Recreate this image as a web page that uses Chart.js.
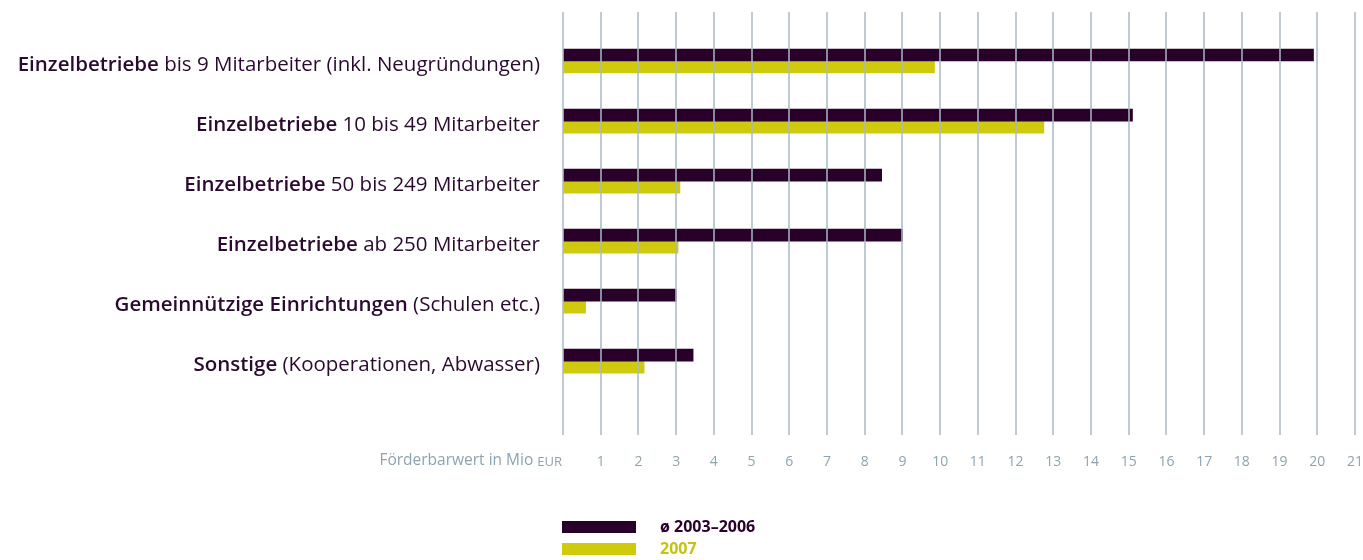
<!DOCTYPE html>
<html>
<head>
<meta charset="utf-8">
<script src="https://cdn.jsdelivr.net/npm/chart.js@4.4.0/dist/chart.umd.min.js"></script>
<style>
  html, body { margin: 0; padding: 0; background: #fff; }
  #wrap { width: 1363px; height: 560px; position: relative; }
</style>
</head>
<body>
<div id="wrap"><canvas id="chart"></canvas></div>
<script>
// Kategorien (fetter Teil + normaler Teil)
const kategorienFett = ['Einzelbetriebe', 'Einzelbetriebe', 'Einzelbetriebe', 'Einzelbetriebe', 'Gemeinnützige Einrichtungen', 'Sonstige'];
const kategorienNormal = [' bis 9 Mitarbeiter (inkl. Neugründungen)', ' 10 bis 49 Mitarbeiter', ' 50 bis 249 Mitarbeiter', ' ab 250 Mitarbeiter', ' (Schulen etc.)', ' (Kooperationen, Abwasser)'];

const serienNamen = ['ø 2003–2006', '2007'];
const werte2003bis2006 = [19.9, 15.1, 8.45, 9.0, 3.0, 3.45];
const werte2007 = [9.85, 12.75, 3.1, 3.05, 0.6, 2.15];

const achsenTitel = 'Förderbarwert in Mio ';
const achsenEinheit = 'EUR';
const xMin = 0, xMax = 21;

const DUNKEL = '#280029';
const GELB = '#cfca0d';
const GRID = 'rgba(168, 186, 198, 0.75)';
const TICK = '#8ea3b0';
const TEXT = '#2b0a2f';
const FONT = '"Open Sans", "Noto Sans", sans-serif';

// Gitterlinien über die ganze Höhe, über den Balken
const gitterPlugin = {
    id: 'gitter',
    afterDatasetsDraw(chart) {
        const ctx = chart.ctx;
        const x = chart.scales.x;
        ctx.save();
        ctx.strokeStyle = GRID;
        ctx.lineWidth = 2;
        for (let v = xMin; v <= xMax; v++) {
            const px = Math.round(x.getPixelForValue(v));
            ctx.beginPath();
            ctx.moveTo(px, 12);
            ctx.lineTo(px, 435);
            ctx.stroke();
        }
        ctx.restore();
    }
};

// Beschriftungen der Kategorien, Achsentitel und Legende
const textPlugin = {
    id: 'texte',
    afterDraw(chart) {
        const ctx = chart.ctx;
        const y = chart.scales.y;
        const x = chart.scales.x;
        ctx.save();

        // Kategorien rechtsbündig
        ctx.textBaseline = 'middle';
        ctx.fillStyle = TEXT;
        const rechts = 540;
        chart.data.labels.forEach((lab, i) => {
            const py = y.getPixelForValue(i) + 4;
            ctx.font = '20.5px ' + FONT;
            const wNormal = ctx.measureText(kategorienNormal[i]).width;
            ctx.textAlign = 'right';
            ctx.fillText(kategorienNormal[i], rechts, py);
            ctx.font = '600 20.5px ' + FONT;
            ctx.fillText(kategorienFett[i], rechts - wNormal, py);
        });

        // Achsentitel links von der 0
        const x0 = x.getPixelForValue(0) - 1;
        const ty = 461;
        ctx.fillStyle = TICK;
        ctx.textAlign = 'right';
        ctx.font = '13px ' + FONT;
        const wEinheit = ctx.measureText(achsenEinheit).width;
        ctx.fillText(achsenEinheit, x0, ty + 1);
        ctx.font = '15.5px ' + FONT;
        ctx.fillText(achsenTitel, x0 - wEinheit, ty);

        // Legende
        const lx = x0;
        chart.data.datasets.forEach((ds, i) => {
            const ly = 521 + i * 22;
            ctx.fillStyle = ds.backgroundColor;
            ctx.fillRect(lx, ly, 74, 12);
            ctx.textAlign = 'left';
            ctx.font = 'bold 16px ' + FONT;
            ctx.fillStyle = i === 0 ? DUNKEL : '#c6c214';
            ctx.fillText(ds.label, lx + 98, ly + 6);
        });
        ctx.restore();
    }
};

new Chart(document.getElementById('chart'), {
    type: 'bar',
    data: {
        labels: kategorienFett.map((f, i) => f + kategorienNormal[i]),
        datasets: [
            { label: serienNamen[0], data: werte2003bis2006, backgroundColor: DUNKEL, barThickness: 12 },
            { label: serienNamen[1], data: werte2007, backgroundColor: GELB, barThickness: 12 }
        ]
    },
    options: {
        indexAxis: 'y',
        responsive: true,
        maintainAspectRatio: false,
        animation: false,
        layout: { padding: { left: 563, right: 0, top: 31, bottom: 90 } },
        plugins: {
            legend: { display: false },
            tooltip: { enabled: false }
        },
        scales: {
            x: {
                min: xMin,
                max: xMax,
                border: { display: false },
                grid: { drawOnChartArea: false, drawTicks: true, tickLength: 62, color: 'rgba(0,0,0,0)' },
                ticks: {
                    stepSize: 1,
                    padding: 0,
                    maxRotation: 0,
                    color: TICK,
                    font: { family: FONT, size: 14 },
                    callback: v => v === 0 ? '' : v
                }
            },
            y: {
                display: false
            }
        }
    },
    plugins: [gitterPlugin, textPlugin]
});
</script>
</body>
</html>
